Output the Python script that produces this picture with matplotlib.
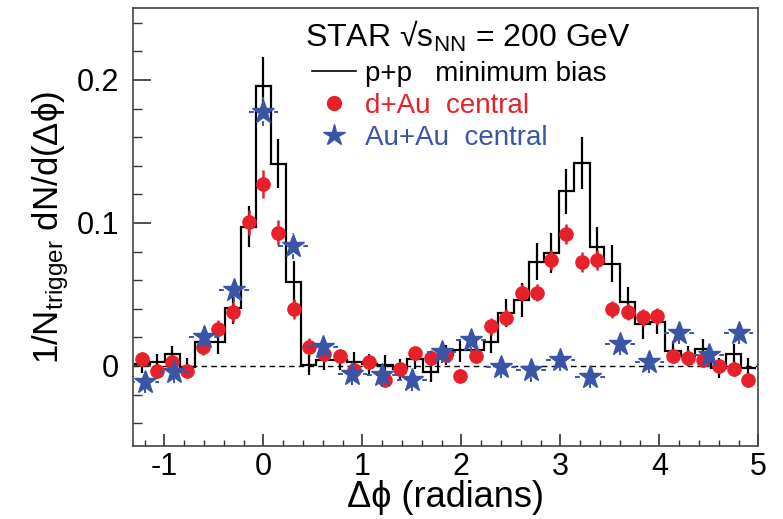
import matplotlib
matplotlib.use("Agg")
import matplotlib.pyplot as plt
import numpy as np
from matplotlib.lines import Line2D

plt.rcParams['font.family'] = ['Liberation Sans', 'DejaVu Sans']
plt.rcParams['mathtext.fontset'] = 'custom'
plt.rcParams['mathtext.rm'] = 'Liberation Sans'
plt.rcParams['mathtext.it'] = 'Liberation Sans:italic'

# bin centres (radians) for p+p and d+Au
dphi = [-1.23, -1.07, -0.92, -0.77, -0.61, -0.46, -0.31, -0.15, 0.0, 0.15,
        0.31, 0.46, 0.61, 0.77, 0.92, 1.07, 1.23, 1.38, 1.53, 1.69,
        1.84, 1.99, 2.15, 2.30, 2.45, 2.61, 2.76, 2.91, 3.06, 3.22,
        3.37, 3.52, 3.68, 3.83, 3.98, 4.14, 4.29, 4.44, 4.60, 4.75, 4.90]

# p+p minimum bias
pp = [0.001, 0.0025, 0.0082, -0.0005, 0.0165, 0.0165, 0.0405, 0.0975, 0.196, 0.1415,
      0.0585, 0.0005, 0.004, 0.004, 0.003, 0.0015, 0.0005, -0.002, 0.0045, -0.0045,
      0.0075, 0.011, 0.011, 0.017, 0.037, 0.046, 0.073, 0.079, 0.122, 0.142,
      0.0835, 0.0715, 0.0445, 0.029, 0.031, 0.0105, 0.0068, 0.012, -0.0014, 0.0086, -0.0014]
pp_err = [0.006, 0.006, 0.006, 0.006, 0.008, 0.008, 0.011, 0.014, 0.02, 0.017,
          0.015, 0.007, 0.007, 0.007, 0.007, 0.007, 0.007, 0.007, 0.007, 0.007,
          0.007, 0.008, 0.008, 0.008, 0.01, 0.012, 0.013, 0.014, 0.016, 0.018,
          0.014, 0.013, 0.011, 0.01, 0.009, 0.007, 0.007, 0.007, 0.007, 0.007, 0.007]

# d+Au central
dau = [0.0047, -0.0035, 0.0028, -0.0037, 0.0133, 0.0261, 0.0378, 0.1003, 0.1272, 0.0933,
       0.0401, 0.0133, 0.008, 0.007, -0.003, 0.0028, -0.010, -0.002, 0.009, 0.0058,
       0.0075, -0.0072, 0.0068, 0.0278, 0.0336, 0.0511, 0.0511, 0.0744, 0.0926, 0.0725,
       0.074, 0.0395, 0.0378, 0.0340, 0.0348, 0.0068, 0.0058, 0.0044, 0.0, -0.0019, -0.010]
dau_err = [0.005, 0.005, 0.005, 0.005, 0.006, 0.006, 0.007, 0.009, 0.010, 0.009,
           0.007, 0.006, 0.005, 0.005, 0.005, 0.005, 0.005, 0.005, 0.005, 0.005,
           0.005, 0.005, 0.005, 0.006, 0.006, 0.006, 0.006, 0.007, 0.007, 0.007,
           0.007, 0.006, 0.006, 0.006, 0.006, 0.005, 0.005, 0.005, 0.005, 0.005, 0.005]

# Au+Au central (wider bins)
dphi_auau = [-1.2, -0.9, -0.6, -0.3, 0.0, 0.3, 0.6, 0.9, 1.2, 1.5, 1.8,
             2.1, 2.4, 2.7, 3.0, 3.3, 3.6, 3.9, 4.2, 4.5, 4.8]
auau = [-0.0112, -0.0042, 0.0203, 0.053, 0.1778, 0.084, 0.0133, -0.0054, -0.0065, -0.0096, 0.0098,
        0.018, -0.0007, -0.003, 0.0044, -0.0077, 0.0156, 0.0028, 0.0233, 0.0075, 0.0233]
auau_err = [0.008, 0.008, 0.008, 0.008, 0.010, 0.009, 0.008, 0.008, 0.008, 0.008, 0.008,
            0.008, 0.008, 0.008, 0.008, 0.008, 0.008, 0.008, 0.008, 0.008, 0.008]
auau_xerr = 0.15

red = '#e8202a'
blue = '#3a55a6'


def main():
    fig = plt.figure(figsize=(7.83, 5.19), dpi=100)
    ax = fig.add_axes([0.170, 0.1407, 0.7985, 0.843])

    # histogram edges from bin centres
    x = np.array(dphi)
    mids = (x[1:] + x[:-1]) / 2
    edges = np.concatenate([[x[0] - (mids[0] - x[0])], mids, [x[-1] + (x[-1] - mids[-1])]])

    ax.axhline(0, color='black', lw=1.0, ls=(0, (4, 3)), zorder=1)

    ax.stairs(pp, edges, baseline=None, color='black', lw=1.6, zorder=3)
    ax.errorbar(dphi, pp, yerr=pp_err, fmt='none', ecolor='black', elinewidth=1.6, zorder=3)

    ax.errorbar(dphi, dau, yerr=dau_err, fmt='o', color=red, ms=9.5, mec=red,
                elinewidth=1.8, capsize=0, zorder=4)

    eb = ax.errorbar(dphi_auau, auau, yerr=auau_err, xerr=auau_xerr, fmt='*', color=blue,
                     ms=17, mec=blue, elinewidth=1.4, capsize=0, zorder=5)
    for lc in eb[2]:
        lc.set_linestyle((0, (2.5, 4)))

    ax.set_xlim(-1.316, 5.0)
    ax.set_ylim(-0.056, 0.25)
    ax.set_xticks([-1, 0, 1, 2, 3, 4, 5])
    ax.set_xticklabels(['-1', '0', '1', '2', '3', '4', '5'])
    ax.set_xticks(np.arange(-1.2, 5.01, 0.2), minor=True)
    ax.set_yticks([0, 0.1, 0.2])
    ax.set_yticklabels(['0', '0.1', '0.2'])
    ax.set_yticks(np.arange(-0.04, 0.25, 0.02), minor=True)
    ax.tick_params(axis='both', which='both', direction='in', colors='#333333',
                   labelcolor='black', labelsize=22, top=False, right=False)
    ax.tick_params(axis='x', which='major', length=9, width=1.2, pad=4)
    ax.tick_params(axis='x', which='minor', length=4.5, width=1.0)
    ax.tick_params(axis='y', which='major', length=13, width=1.2, pad=10)
    ax.tick_params(axis='y', which='minor', length=6.5, width=1.0)
    for s in ax.spines.values():
        s.set_color('#444444')
        s.set_linewidth(1.2)

    ax.set_xlabel('Δϕ (radians)', fontsize=26, labelpad=-1)
    ax.set_ylabel(r'1/N$_{\mathrm{trigger}}$ dN/d(Δϕ)', fontsize=25, labelpad=4)

    ax.text(0.275, 0.937, r'STAR √s$_{\mathrm{NN}}$ = 200 GeV', transform=ax.transAxes,
            fontsize=23, va='center', ha='left')

    handles = [Line2D([], [], color='black', lw=1.2),
               Line2D([], [], ls='none', marker='o', color=red, ms=10),
               Line2D([], [], ls='none', marker='*', color=blue, ms=16)]
    labels = ['p+p   minimum bias', 'd+Au  central', 'Au+Au  central']
    ax.legend(handles, labels, loc='upper left', bbox_to_anchor=(0.286, 0.88),
              frameon=False, fontsize=20, handlelength=1.6, handletextpad=0.3,
              labelspacing=0.22, borderaxespad=0, borderpad=0,
              labelcolor=['black', red, blue])

    fig.savefig('out.png', dpi=100)


if __name__ == "__main__":
    main()
